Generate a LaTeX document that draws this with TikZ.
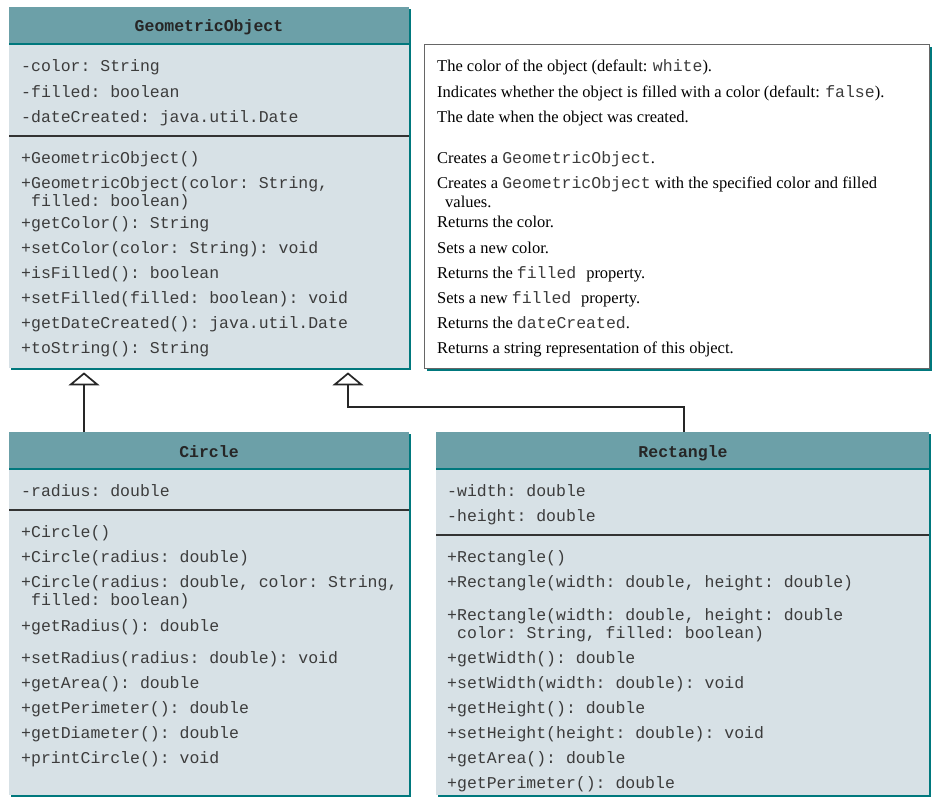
\documentclass[tikz,border=0pt]{standalone}
\usepackage{fontspec}
\setmainfont{Liberation Serif}
\setmonofont{Liberation Mono}
\usetikzlibrary{shadows,arrows.meta}
\definecolor{headc}{RGB}{108,160,168}
\definecolor{bodyc}{RGB}{215,225,230}
\definecolor{shc}{RGB}{0,120,125}
\definecolor{txtc}{RGB}{60,60,60}
\newcommand\msz{\fontsize{16.5}{20}\selectfont}
\newcommand\mt[1]{{\ttfamily\color{txtc}#1}}
\begin{document}
\begin{tikzpicture}[x=1pt,y=-1pt,
  shd/.style={drop shadow={shadow xshift=2.2pt, shadow yshift=-2.2pt, fill=shc, opacity=1}},
  cls/.style={fill=bodyc, draw=none, inner sep=0, anchor=north west, shd},
  notebox/.style={fill=white, draw=black!60, line width=0.9pt, inner sep=0, anchor=north west, shd},
  hline/.style={draw=shc, line width=2pt},
  sep/.style={draw=black!80, line width=1.1pt},
  ln/.style={anchor=base west, inner sep=0, font=\ttfamily\msz, text=txtc},
  ttl/.style={anchor=base, inner sep=0, font=\ttfamily\bfseries\msz, text=black!85},
  nt/.style={anchor=base west, inner sep=0, font=\rmfamily\msz, text=black},
  inh/.style={draw=black!85, line width=1.7pt, -{Triangle[length=13pt,width=31pt,fill=white]}}
]
\useasboundingbox (0,0) rectangle (944,808);

% ---------- GeometricObject ----------
\node[cls, minimum width=400pt, minimum height=361pt] (go) at (9,7) {};
\fill[headc] (go.north west) rectangle ([yshift=-37pt]go.north east);
\draw[hline] ([yshift=-37pt]go.north west) -- ([yshift=-37pt]go.north east);
\draw[sep] ([yshift=-129pt]go.north west) -- ([yshift=-129pt]go.north east);
\node[ttl] (got) at (209,32) {GeometricObject};
\node[ln] (ga1) at (21,71) {-color: String};
\node[ln] (ga2) at (21,97) {-filled: boolean};
\node[ln] (ga3) at (21,122) {-dateCreated: java.util.Date};
\node[ln] (gm1) at (21,163) {+GeometricObject()};
\node[ln] (gm2) at (21,188) {+GeometricObject(color: String,};
\node[ln] (gm2b) at (31,206) {filled: boolean)};
\node[ln] (gm3) at (21,228) {+getColor(): String};
\node[ln] (gm4) at (21,253) {+setColor(color: String): void};
\node[ln] (gm5) at (21,278) {+isFilled(): boolean};
\node[ln] (gm6) at (21,303) {+setFilled(filled: boolean): void};
\node[ln] (gm7) at (21,328) {+getDateCreated(): java.util.Date};
\node[ln] (gm8) at (21,353) {+toString(): String};

% ---------- note ----------
\node[notebox, minimum width=505pt, minimum height=324pt] (note) at (424,44) {};
\node[nt] (n1) at (437,71) {The color of the object (default: \mt{white}).};
\node[nt] (n2) at (437,97) {Indicates whether the object is filled with a color (default: \mt{false}).};
\node[nt] (n3) at (437,122) {The date when the object was created.};
\node[nt] (n4) at (437,163) {Creates a \mt{GeometricObject}.};
\node[nt] (n5) at (437,188) {Creates a \mt{GeometricObject} with the specified color and filled};
\node[nt] (n5b) at (445,207) {values.};
\node[nt] (n6) at (437,227) {Returns the color.};
\node[nt] (n7) at (437,253) {Sets a new color.};
\node[nt] (n8) at (437,278) {Returns the \mt{filled\ }property.};
\node[nt] (n9) at (437,303) {Sets a new \mt{filled\ }property.};
\node[nt] (n10) at (437,328) {Returns the \mt{dateCreated}.};
\node[nt] (n11) at (437,353) {Returns a string representation of this object.};

% ---------- Circle ----------
\node[cls, minimum width=400pt, minimum height=363pt] (circ) at (9,432) {};
\fill[headc] (circ.north west) rectangle ([yshift=-37pt]circ.north east);
\draw[hline] ([yshift=-37pt]circ.north west) -- ([yshift=-37pt]circ.north east);
\draw[sep] ([yshift=-78pt]circ.north west) -- ([yshift=-78pt]circ.north east);
\node[ttl] (ct) at (209,457) {Circle};
\node[ln] (ca1) at (21,496) {-radius: double};
\node[ln] (cm1) at (21,537) {+Circle()};
\node[ln] (cm2) at (21,562) {+Circle(radius: double)};
\node[ln] (cm3) at (21,587) {+Circle(radius: double, color: String,};
\node[ln] (cm3b) at (31,605) {filled: boolean)};
\node[ln] (cm4) at (21,631) {+getRadius(): double};
\node[ln] (cm5) at (21,663) {+setRadius(radius: double): void};
\node[ln] (cm6) at (21,688) {+getArea(): double};
\node[ln] (cm7) at (21,713) {+getPerimeter(): double};
\node[ln] (cm8) at (21,738) {+getDiameter(): double};
\node[ln] (cm9) at (21,763) {+printCircle(): void};

% ---------- Rectangle ----------
\node[cls, minimum width=493pt, minimum height=363pt] (rect) at (436,432) {};
\fill[headc] (rect.north west) rectangle ([yshift=-37pt]rect.north east);
\draw[hline] ([yshift=-37pt]rect.north west) -- ([yshift=-37pt]rect.north east);
\draw[sep] ([yshift=-103pt]rect.north west) -- ([yshift=-103pt]rect.north east);
\node[ttl] (rt) at (683,457) {Rectangle};
\node[ln] (ra1) at (447,496) {-width: double};
\node[ln] (ra2) at (447,521) {-height: double};
\node[ln] (rm1) at (447,562) {+Rectangle()};
\node[ln] (rm2) at (447,587) {+Rectangle(width: double, height: double)};
\node[ln] (rm3) at (447,620) {+Rectangle(width: double, height: double};
\node[ln] (rm3b) at (457,638) {color: String, filled: boolean)};
\node[ln] (rm4) at (447,663) {+getWidth(): double};
\node[ln] (rm5) at (447,688) {+setWidth(width: double): void};
\node[ln] (rm6) at (447,713) {+getHeight(): double};
\node[ln] (rm7) at (447,738) {+setHeight(height: double): void};
\node[ln] (rm8) at (447,763) {+getArea(): double};
\node[ln] (rm9) at (447,788) {+getPerimeter(): double};

% ---------- inheritance ----------
\draw[inh] ([xshift=75pt]circ.north west) -- ([xshift=75pt,yshift=-4pt]go.south west);
\draw[inh] ([xshift=248pt]rect.north west) -- ++(0,-25) -| ([xshift=339pt,yshift=-4pt]go.south west);
\end{tikzpicture}
\end{document}
